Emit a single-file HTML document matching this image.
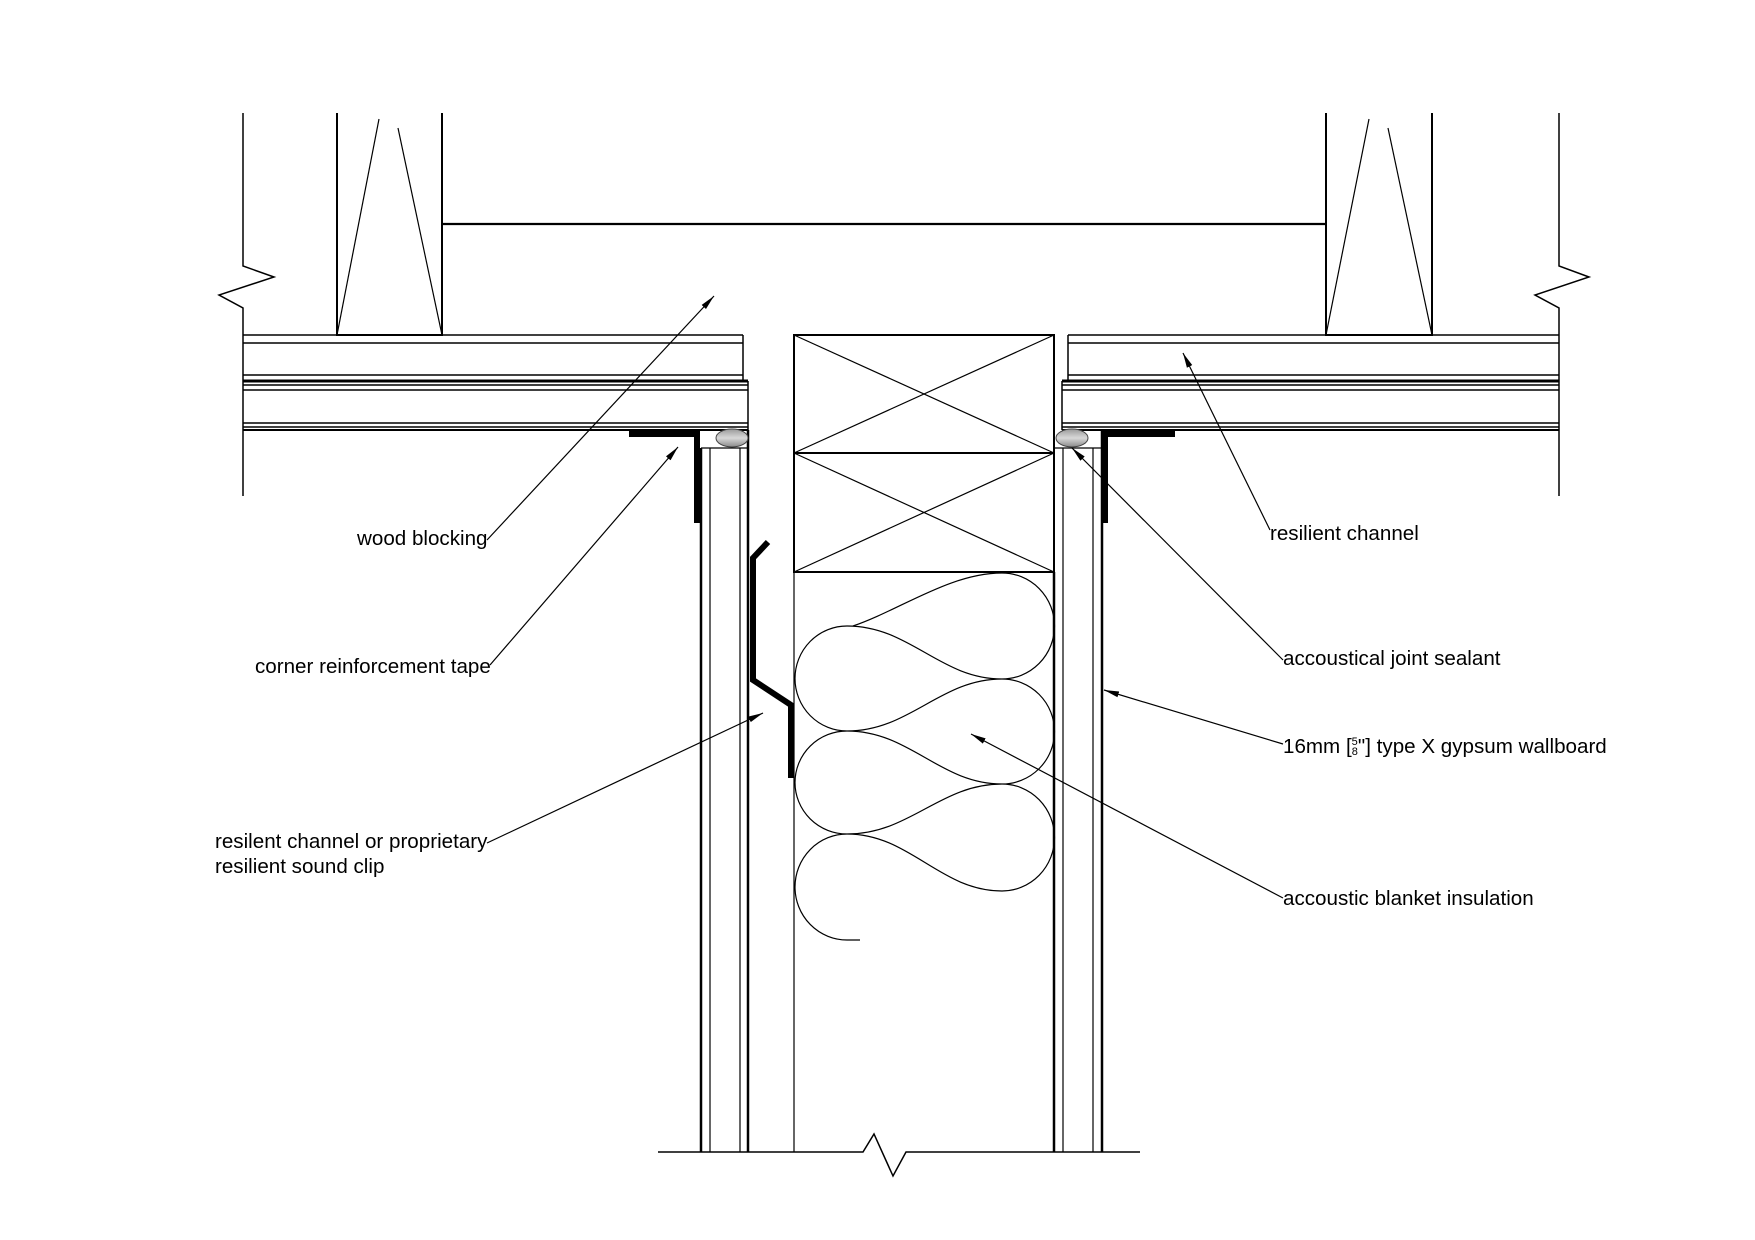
<!DOCTYPE html>
<html><head><meta charset="utf-8"><style>
html,body{margin:0;padding:0;background:#fff;}
svg{display:block}
text{font-family:"Liberation Sans",Arial,sans-serif;font-size:20.6px;fill:#000}
</style></head><body>
<svg width="1755" height="1240" viewBox="0 0 1755 1240" xmlns="http://www.w3.org/2000/svg">
<defs>
<marker id="ar" markerWidth="16" markerHeight="8" refX="15" refY="4" orient="auto" markerUnits="userSpaceOnUse">
<path d="M0,1 L15,4 L0,7 Z" fill="#000"/>
</marker>
<linearGradient id="sg" x1="0" y1="0" x2="0" y2="1">
<stop offset="0" stop-color="#9a9a9a"/><stop offset="0.5" stop-color="#d8d8d8"/><stop offset="1" stop-color="#8a8a8a"/>
</linearGradient>
</defs>
<g fill="none" stroke="#000" stroke-width="1.5">
<polyline points="243,113 243,266 274,277 219,295 243,308 243,496"/>
<polyline points="1559,113 1559,266 1589,277 1535,295 1559,308 1559,496"/>
<!-- studs (open top) -->
<polyline points="337,113 337,335 442,335 442,113" stroke-width="2"/>
<line x1="337" y1="335" x2="379" y2="119" stroke-width="1.2"/>
<line x1="398" y1="128" x2="442" y2="335" stroke-width="1.2"/>
<polyline points="1326,113 1326,335 1432,335 1432,113" stroke-width="2"/>
<line x1="1326" y1="335" x2="1369" y2="119" stroke-width="1.2"/>
<line x1="1388" y1="128" x2="1432" y2="335" stroke-width="1.2"/>
<line x1="442" y1="224" x2="1326" y2="224" stroke-width="2.2"/>
<!-- left boards -->
<line x1="243" y1="335" x2="743" y2="335"/>
<line x1="243" y1="343" x2="743" y2="343"/>
<line x1="243" y1="375" x2="743" y2="375"/>
<line x1="243" y1="381" x2="748" y2="381" stroke-width="3"/>
<line x1="243" y1="385" x2="748" y2="385"/>
<line x1="243" y1="390" x2="748" y2="390"/>
<line x1="243" y1="423" x2="748" y2="423"/>
<line x1="243" y1="427" x2="748" y2="427"/>
<line x1="243" y1="430" x2="748" y2="430" stroke-width="2"/>
<line x1="743" y1="335" x2="743" y2="381"/>
<line x1="748" y1="381" x2="748" y2="430"/>
<!-- right boards -->
<line x1="1068" y1="335" x2="1559" y2="335"/>
<line x1="1068" y1="343" x2="1559" y2="343"/>
<line x1="1068" y1="375" x2="1559" y2="375"/>
<line x1="1062" y1="381" x2="1559" y2="381" stroke-width="3"/>
<line x1="1062" y1="385" x2="1559" y2="385"/>
<line x1="1062" y1="390" x2="1559" y2="390"/>
<line x1="1062" y1="423" x2="1559" y2="423"/>
<line x1="1062" y1="427" x2="1559" y2="427"/>
<line x1="1062" y1="430" x2="1559" y2="430" stroke-width="2"/>
<line x1="1068" y1="335" x2="1068" y2="381"/>
<line x1="1062" y1="381" x2="1062" y2="430"/>
<!-- blocking -->
<rect x="794" y="335" width="260" height="118" stroke-width="2"/>
<rect x="794" y="453" width="260" height="119" stroke-width="2"/>
<line x1="794" y1="335" x2="1054" y2="453" stroke-width="1.2"/>
<line x1="1054" y1="335" x2="794" y2="453" stroke-width="1.2"/>
<line x1="794" y1="453" x2="1054" y2="572" stroke-width="1.2"/>
<line x1="1054" y1="453" x2="794" y2="572" stroke-width="1.2"/>
<line x1="794" y1="572" x2="794" y2="1152" stroke-width="1.2"/>
<line x1="1054" y1="572" x2="1054" y2="1152" stroke-width="2.5"/>
<!-- left gypsum -->
<line x1="701" y1="448" x2="701" y2="1152" stroke-width="2.5"/>
<line x1="710" y1="448" x2="710" y2="1152" stroke-width="1.2"/>
<line x1="740" y1="448" x2="740" y2="1152" stroke-width="1.2"/>
<line x1="748" y1="430" x2="748" y2="1152" stroke-width="2.5"/>
<line x1="701" y1="448" x2="748" y2="448" stroke-width="1.2"/>
<!-- right gypsum -->
<line x1="1063" y1="448" x2="1063" y2="1152" stroke-width="1.2"/>
<line x1="1093" y1="448" x2="1093" y2="1152" stroke-width="1.2"/>
<line x1="1102" y1="430" x2="1102" y2="1152" stroke-width="2.5"/>
<line x1="1054" y1="448" x2="1102" y2="448" stroke-width="1.2"/>
<polyline points="658,1152 863,1152 874,1134 893,1176 906,1152 1140,1152"/>
<!-- insulation -->
<path stroke-width="1.2" d="M853,626 C900,610 950,573 1002,573
A52.5,53 0 0 1 1002,679
C940,679 910,626 847,626
A52,52.5 0 0 0 847,731
C910,731 940,679 1002,679
A52.5,52.5 0 0 1 1002,784
C940,784 910,731 847,731
A52,51.5 0 0 0 847,834
C910,834 940,784 1002,784
A52.5,53.5 0 0 1 1002,891
C940,891 910,834 847,834
A52,53 0 0 0 847,940 L860,940"/>
</g>
<rect x="629" y="431" width="71" height="6" fill="#000"/>
<rect x="694" y="431" width="6" height="92" fill="#000"/>
<rect x="1102" y="431" width="73" height="6" fill="#000"/>
<rect x="1102" y="431" width="6" height="92" fill="#000"/>
<ellipse cx="732" cy="438" rx="16" ry="9" fill="url(#sg)" stroke="#444" stroke-width="1"/>
<ellipse cx="1072" cy="438" rx="16" ry="9" fill="url(#sg)" stroke="#444" stroke-width="1"/>
<polyline points="768,542 753,558 753,680 791,705 791,778" fill="none" stroke="#000" stroke-width="6"/>
<g stroke="#000" stroke-width="1.2" fill="none" marker-end="url(#ar)">
<line x1="487" y1="540" x2="714" y2="296"/>
<line x1="490" y1="665" x2="678" y2="447"/>
<line x1="487" y1="843" x2="763" y2="713"/>
<line x1="1270" y1="530" x2="1183" y2="353"/>
<line x1="1283" y1="660" x2="1072" y2="448"/>
<line x1="1283" y1="744" x2="1104" y2="690"/>
<line x1="1283" y1="898" x2="971" y2="734"/>
</g>
<text x="357" y="545">wood blocking</text>
<text x="255" y="673">corner reinforcement tape</text>
<text x="215" y="848">resilent channel or proprietary</text>
<text x="215" y="873">resilient sound clip</text>
<text x="1270" y="540">resilient channel</text>
<text x="1283" y="665">accoustical joint sealant</text>
<text x="1283" y="753">16mm [<tspan font-size="11" dy="-8">5</tspan><tspan font-size="11" dx="-6" dy="10">8</tspan><tspan dy="-2">"] type X gypsum wallboard</tspan></text>
<text x="1283" y="905">accoustic blanket insulation</text>
</svg>
</body></html>
